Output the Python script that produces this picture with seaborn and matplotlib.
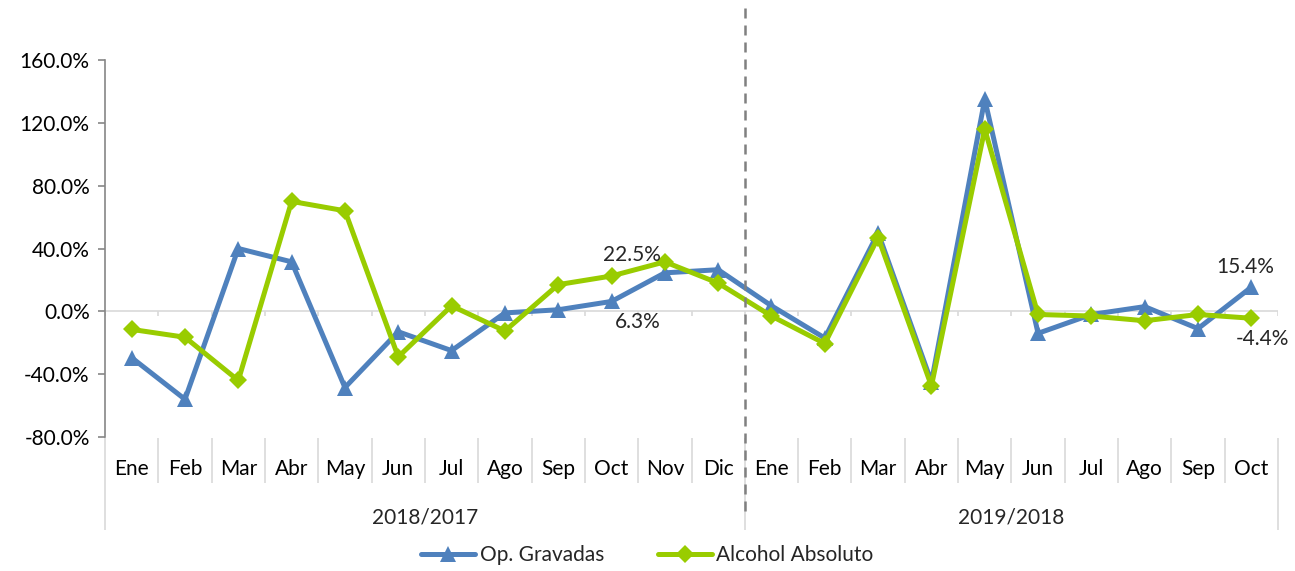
import matplotlib
matplotlib.use("Agg")
import matplotlib.pyplot as plt
import matplotlib.transforms as mtransforms
from matplotlib.ticker import FuncFormatter
import numpy as np
import pandas as pd
import seaborn as sns

# Monthly year-over-year change (%)
months = ["Ene", "Feb", "Mar", "Abr", "May", "Jun", "Jul", "Ago", "Sep", "Oct", "Nov", "Dic",
          "Ene", "Feb", "Mar", "Abr", "May", "Jun", "Jul", "Ago", "Sep", "Oct"]
periods = ["2018/2017", "2019/2018"]
period_sizes = [12, 10]

op_gravadas = [-29.5, -56.0, 40.0, 31.5, -48.5, -13.0, -25.0, -1.0, 1.0, 6.3, 24.5, 26.5,
               3.5, -17.0, 50.0, -45.0, 135.0, -14.0, -2.0, 3.0, -11.0, 15.4]
alcohol_absoluto = [-11.5, -16.5, -44.0, 70.0, 64.0, -29.0, 3.5, -12.5, 17.0, 22.5, 31.5, 18.0,
                    -3.0, -20.5, 47.0, -47.5, 116.0, -2.0, -3.0, -6.0, -2.0, -4.4]

series_names = ["Op. Gravadas", "Alcohol Absoluto"]
colors = {"Op. Gravadas": "#4F81BD", "Alcohol Absoluto": "#99CC00"}
markers = {"Op. Gravadas": "^", "Alcohol Absoluto": "D"}
msize = {"Op. Gravadas": 11, "Alcohol Absoluto": 9}

x = np.arange(len(months))
df = pd.concat([
    pd.DataFrame({"x": x, "valor": op_gravadas, "serie": series_names[0]}),
    pd.DataFrame({"x": x, "valor": alcohol_absoluto, "serie": series_names[1]}),
])

FS = 15
sns.set_style("white")
plt.rcParams["font.family"] = ["Lato", "DejaVu Sans"]
plt.rcParams["font.size"] = FS

W, H = 1295, 571
fig = plt.figure(figsize=(W / 100, H / 100), dpi=100)
ax_left, ax_right, ax_top, ax_bottom = 105, 1278, 60, 437
ax = fig.add_axes([ax_left / W, 1 - ax_bottom / H, (ax_right - ax_left) / W, (ax_bottom - ax_top) / H])

# zero line with small category ticks
ax.axhline(0, color="#D9D9D9", lw=1.2, zorder=1)
ax.vlines(np.arange(-0.5, len(months)), -3.2, 0, color="#D9D9D9", lw=1.2, zorder=1)

sns.lineplot(data=df, x="x", y="valor", hue="serie", style="serie", hue_order=series_names,
             style_order=series_names, palette=colors, markers=markers, dashes=False,
             linewidth=3.6, markersize=11, markeredgewidth=0, legend=False, ax=ax, zorder=3)
for line in ax.get_lines():
    if line.get_marker() == "D":
        line.set_markersize(msize["Alcohol Absoluto"])

ax.set_xlim(-0.5, len(months) - 0.5)
ax.set_ylim(-80, 160)
ax.set_yticks(np.arange(-80, 161, 40))
ax.yaxis.set_major_formatter(FuncFormatter(lambda v, p: f"{v:.1f}%"))
ax.tick_params(axis="y", length=5, width=1.2, color="#868686", pad=6, labelcolor="black",
               left=True, labelsize=FS)
ax.set_xticks(x)
ax.set_xticklabels(months)
ax.tick_params(axis="x", length=0, pad=16, labelcolor="black", labelsize=FS)
ax.set_xlabel("")
ax.set_ylabel("")
for s in ["top", "right", "bottom"]:
    ax.spines[s].set_visible(False)
ax.spines["left"].set_color("#868686")
ax.spines["left"].set_linewidth(1.2)

# multi-level category axis
trans = mtransforms.blended_transform_factory(ax.transData, ax.transAxes)
h = ax_bottom - ax_top
def ya(px):
    return (ax_bottom - px) / h

inner = [k + 0.5 for k in range(len(months) - 1) if k + 1 not in np.cumsum(period_sizes)]
ax.vlines(inner, ya(438), ya(483), transform=trans, color="#D9D9D9", lw=1.2, clip_on=False)
outer = [-0.5] + [c - 0.5 for c in np.cumsum(period_sizes)]
ax.vlines(outer, ya(438), ya(530), transform=trans, color="#D9D9D9", lw=1.2, clip_on=False)

start = 0
for name, n in zip(periods, period_sizes):
    ax.text(start + (n - 1) / 2, ya(517), name, transform=trans, ha="center", va="center",
            fontsize=FS, clip_on=False)
    start += n

# divider between periods
split = period_sizes[0] - 0.5
ax.plot([split, split], [ya(8), ya(515)], transform=trans, color="#808080", lw=1.8,
        dashes=(4, 2.8), clip_on=False, zorder=5)

# value labels for the latest month of each period
ann = [
    (9, alcohol_absoluto[9], (20, 21)),
    (9, op_gravadas[9], (26, -21)),
    (21, op_gravadas[21], (-6, 20)),
    (21, alcohol_absoluto[21], (11, -21)),
]
for xi, v, off in ann:
    ax.annotate(f"{v:.1f}%", (xi, v), xytext=off, textcoords="offset pixels",
                ha="center", va="center", fontsize=FS, zorder=6)

handles = [plt.Line2D([], [], color=colors[n], marker=markers[n], lw=3.6,
                      markersize=msize[n], markeredgewidth=0)
           for n in series_names]
fig.legend(handles, series_names, loc="center", bbox_to_anchor=(0.5, 1 - 555 / H), ncol=2,
           frameon=False, handlelength=2.6, handletextpad=0.2, columnspacing=2.6,
           fontsize=FS)

fig.savefig("out.png", dpi=100)
